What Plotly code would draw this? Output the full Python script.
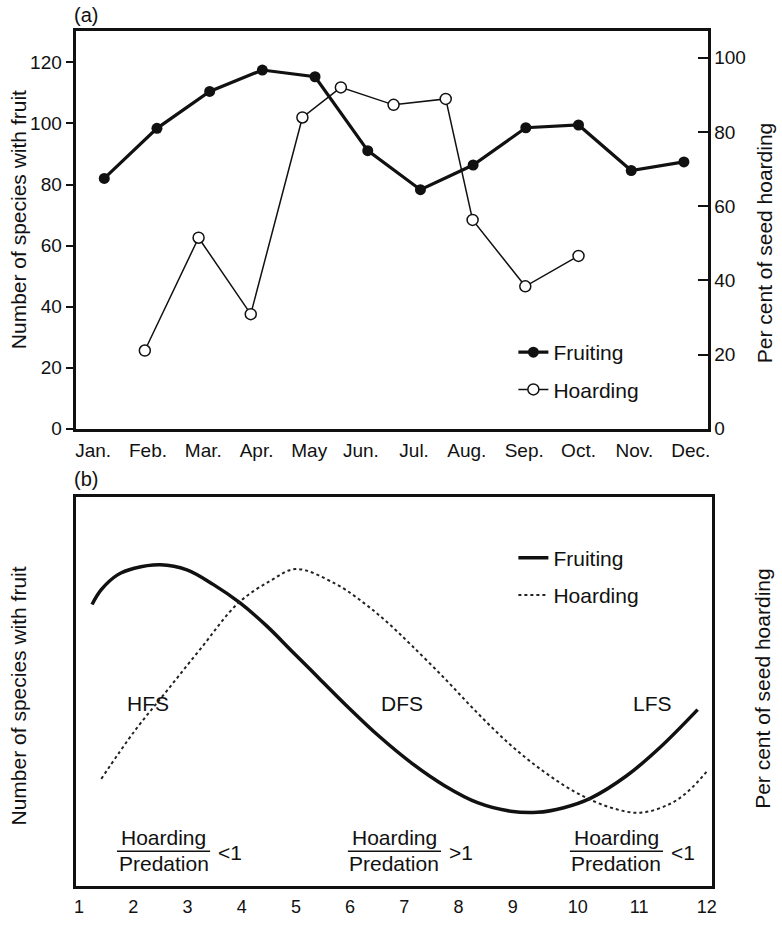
import plotly.graph_objects as go

# ---------------- data: panel (a) ----------------
month_labels = ["Jan.", "Feb.", "Mar.", "Apr.", "May", "Jun.", "Jul.", "Aug.",
                "Sep.", "Oct.", "Nov.", "Dec."]
month_label_pos = [0.79, 1.83, 2.88, 3.89, 4.89, 5.87, 6.88, 7.88, 8.97, 10.0, 11.06, 12.13]
fruit_month = [1, 2, 3, 4, 5, 6, 7, 8, 9, 10, 11, 12]
fruit_species = [82, 98.4, 110.5, 117.5, 115.3, 91.1, 78.3, 86.4, 98.6, 99.5, 84.6, 87.4]
hoard_month = [1.77, 2.79, 3.78, 4.76, 5.49, 6.49, 7.48, 7.99, 8.99, 10.0]
hoard_pct = [21.1, 51.5, 30.9, 83.9, 92.0, 87.3, 88.9, 56.3, 38.4, 46.6]
left_ticks_a = [0, 20, 40, 60, 80, 100, 120]
right_ticks_a = [0, 20, 40, 60, 80, 100]

# ---------------- data: panel (b) (schematic curves) ----------------
b_tick_labels = ["1", "2", "3", "4", "5", "6", "7", "8", "9", "10", "11", "12"]
b_tick_pos = [1, 2, 3, 4, 5, 6, 7, 8, 9, 10.2, 11.33, 12.58]
fruit_b_x = [1.24, 1.41, 1.71, 2.02, 2.50, 2.99, 3.48, 3.97, 4.46, 4.94, 5.43, 5.92,
             6.53, 7.14, 7.75, 8.35, 8.96, 9.45, 9.94, 10.43, 11.10, 11.71, 12.41]
fruit_b_y = [72.4, 76.2, 80.0, 81.7, 82.6, 81.3, 77.5, 72.8, 66.9, 60.2, 53.4, 46.6,
             38.6, 31.6, 25.8, 21.5, 19.3, 19.0, 20.2, 22.6, 28.4, 35.6, 45.4]
hoard_b_x = [1.41, 2.02, 2.63, 3.24, 3.94, 4.52, 5.00, 5.73, 6.28, 6.71, 7.14, 7.75,
             8.35, 8.96, 9.57, 10.18, 10.79, 11.34, 11.89, 12.25, 12.59]
hoard_b_y = [27.6, 39.8, 50.4, 61.0, 72.8, 78.4, 81.5, 77.7, 72.5, 67.5, 61.8, 53.3,
             44.5, 36.3, 29.5, 24.0, 20.3, 18.9, 21.1, 24.6, 29.7]

# ---------------- layout helpers ----------------
W, H = 782, 925
FONT = "Liberation Sans, Arial, Helvetica, sans-serif"
INK = "#111111"


def fx(p):
    return p / W


def fy(p):
    return 1 - p / H


fig = go.Figure()

# panel (a)
fig.add_trace(go.Scatter(
    x=fruit_month, y=fruit_species, name="Fruiting", mode="lines+markers",
    line=dict(color=INK, width=3.2), marker=dict(color=INK, size=11, symbol="circle"),
    xaxis="x", yaxis="y", legend="legend", legendgroup="fa"))
fig.add_trace(go.Scatter(
    x=hoard_month, y=hoard_pct, name="Hoarding", mode="lines+markers",
    line=dict(color=INK, width=1.5),
    marker=dict(color="white", size=11, symbol="circle", line=dict(color=INK, width=1.5)),
    xaxis="x", yaxis="y2", legend="legend", legendgroup="ha"))

# panel (b)
fig.add_trace(go.Scatter(
    x=fruit_b_x, y=fruit_b_y, name="Fruiting", mode="lines",
    line=dict(color=INK, width=3.5, shape="spline", smoothing=1.0),
    xaxis="x3", yaxis="y3", legend="legend2", legendgroup="fb"))
fig.add_trace(go.Scatter(
    x=hoard_b_x, y=hoard_b_y, name="Hoarding", mode="lines",
    line=dict(color="#222222", width=2, dash="dot", shape="spline", smoothing=1.0),
    xaxis="x3", yaxis="y4", legend="legend2", legendgroup="hb"))

axis_common = dict(showline=True, linecolor=INK, linewidth=2.5, showgrid=False,
                   zeroline=False, tickfont=dict(family=FONT, size=19, color=INK))

a_dom_x = [fx(75), fx(712)]
a_dom_y = [fy(434), fy(31)]
b_dom_x = [fx(75), fx(716.7)]
b_dom_y = [fy(897), fy(503)]

fig.update_layout(
    width=W, height=H, margin=dict(l=0, r=0, t=0, b=0),
    paper_bgcolor="white", plot_bgcolor="white",
    font=dict(family=FONT, color=INK),
    xaxis=dict(**axis_common, domain=a_dom_x, anchor="y", range=[0.47, 12.45],
               tickvals=month_label_pos, ticktext=month_labels, ticks="",
               mirror=True, ticklabelstandoff=3),
    yaxis=dict(**axis_common, domain=a_dom_y, anchor="x", range=[0, 130.4],
               tickvals=left_ticks_a, ticks="outside", ticklen=8, tickwidth=2,
               tickcolor=INK),
    yaxis2=dict(**axis_common, overlaying="y", side="right", anchor="x",
                range=[0, 107.3], tickvals=right_ticks_a, ticks="inside",
                ticklen=10, tickwidth=2, tickcolor=INK),
    xaxis3=dict(showline=True, linecolor=INK, linewidth=2.5, showgrid=False,
                zeroline=False, tickfont=dict(family=FONT, size=18, color=INK),
                domain=b_dom_x, anchor="y3", range=[0.95, 12.68],
                tickvals=b_tick_pos, ticktext=b_tick_labels, ticks="",
                mirror=True, ticklabelstandoff=2),
    yaxis3=dict(**axis_common, domain=b_dom_y, anchor="x3", range=[0, 100],
                showticklabels=False, ticks=""),
    yaxis4=dict(**axis_common, overlaying="y3", side="right", anchor="x3",
                range=[0, 100], showticklabels=False, ticks=""),
    legend=dict(x=fx(516), y=fy(336), xanchor="left", yanchor="top",
                bgcolor="rgba(0,0,0,0)", font=dict(family=FONT, size=21, color=INK),
                tracegroupgap=7, itemwidth=30),
    legend2=dict(x=fx(516), y=fy(544), xanchor="left", yanchor="top",
                 bgcolor="rgba(0,0,0,0)", font=dict(family=FONT, size=21, color=INK),
                 tracegroupgap=7, itemwidth=30),
    showlegend=True,
)

ann = []


def text(x, y, s, size=21, angle=0, xanchor="center"):
    ann.append(dict(x=fx(x), y=fy(y), xref="paper", yref="paper", text=s,
                    showarrow=False, textangle=angle, xanchor=xanchor,
                    yanchor="middle", font=dict(family=FONT, size=size, color=INK)))


# panel labels
text(85, 15, "(a)", size=20)
text(85, 485, "(b)", size=20)
# axis titles
text(17, 222, "Number of species with fruit", angle=-90)
text(769, 246, "Per cent of seed hoarding", angle=-90)
text(17, 704, "Number of species with fruit", angle=-90)
text(768, 697, "Per cent of seed hoarding", angle=-90)
# phase labels
text(147, 712, "HFS")
text(404, 712, "DFS")
text(656, 712, "LFS")
# ratio labels
shapes = []
for cx, sign in [(163, "<1"), (396, ">1"), (620, "<1")]:
    text(cx, 848, "Hoarding")
    text(cx, 874, "Predation")
    text(cx + 67, 863, sign)
    shapes.append(dict(type="line", xref="paper", yref="paper",
                       x0=fx(cx - 47), x1=fx(cx + 47), y0=fy(861.5), y1=fy(861.5),
                       line=dict(color=INK, width=1.5)))

fig.update_layout(annotations=ann, shapes=shapes)

# remove the browser's default 8 px page margin so the figure sits at (0, 0)
fig.write_html("out.html",
               config={"displayModeBar": False},
               post_script="document.body.style.margin='0';document.body.style.overflow='hidden';")
